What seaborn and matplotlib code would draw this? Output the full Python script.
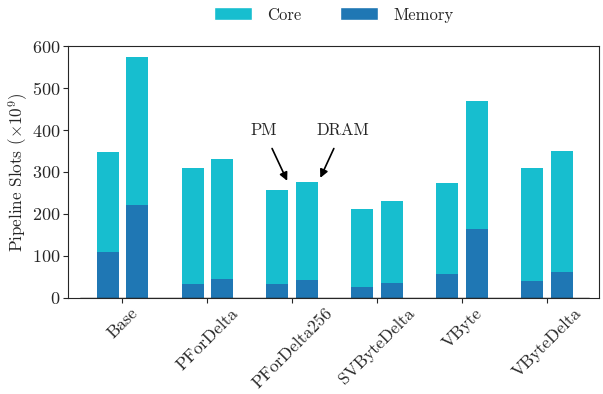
import pandas as pd
import seaborn as sns
import matplotlib.pyplot as plt
from matplotlib.patches import Patch

# Data (pipeline slots, x10^9)
methods = ['Base', 'PForDelta', 'PForDelta256', 'SVByteDelta', 'VByte', 'VByteDelta']
configs = ['PM', 'DRAM']
total_pm = [347, 309, 256, 212, 274, 309]
total_dram = [574, 331, 276, 231, 469, 350]
memory_pm = [109, 33, 33, 26, 57, 40]
memory_dram = [221, 45, 43, 36, 164, 62]

core_color = '#17becf'
mem_color = '#1f77b4'

rows = []
for i, m in enumerate(methods):
    rows.append({'method': m, 'config': 'PM', 'total': total_pm[i], 'memory': memory_pm[i]})
    rows.append({'method': m, 'config': 'DRAM', 'total': total_dram[i], 'memory': memory_dram[i]})
df = pd.DataFrame(rows)

sns.set_theme(style='ticks')
plt.rcParams['font.family'] = 'serif'
plt.rcParams['font.serif'] = ['cmr10']
plt.rcParams['mathtext.fontset'] = 'cm'
plt.rcParams['axes.formatter.use_mathtext'] = True
plt.rcParams['axes.unicode_minus'] = False

fig = plt.figure(figsize=(6.03, 3.94), dpi=100)
ax = fig.add_axes([0.113, 0.244, 0.880, 0.639])

# Core on top of Memory: draw the full stack, then the memory part over it
sns.barplot(data=df, x='method', y='total', hue='config', hue_order=configs,
            palette={'PM': core_color, 'DRAM': core_color}, width=0.7, gap=0.26,
            saturation=1, legend=False, linewidth=0, edgecolor='none', ax=ax)
sns.barplot(data=df, x='method', y='memory', hue='config', hue_order=configs,
            palette={'PM': mem_color, 'DRAM': mem_color}, width=0.7, gap=0.26,
            saturation=1, legend=False, linewidth=0, edgecolor='none', ax=ax)
ax.plot([-0.5, 5.5], [0, 0], color='#222222', lw=1.0, zorder=3)

ax.set_xlim(-0.64, 5.61)
ax.set_ylim(0, 600)
ax.set_yticks(range(0, 601, 100))
ax.set_xlabel('')
ax.set_ylabel(r'Pipeline Slots ($\times 10^9$)', fontsize=12.3)
ax.yaxis.set_label_coords(-0.072, 0.5)
ax.tick_params(axis='both', length=3.5, width=0.8, pad=2)
ax.tick_params(axis='y', labelsize=13)
ax.tick_params(axis='x', labelsize=12.5)
plt.setp(ax.get_xticklabels(), rotation=45, ha='center')
for s in ax.spines.values():
    s.set_linewidth(0.8)

ax.annotate('PM', xy=(1.94, 279), xytext=(1.66, 400), fontsize=12,
            ha='center', va='center',
            arrowprops=dict(arrowstyle='-|>', color='black', lw=1.2, shrinkA=6, shrinkB=0))
ax.annotate('DRAM', xy=(2.33, 286), xytext=(2.59, 400), fontsize=12,
            ha='center', va='center',
            arrowprops=dict(arrowstyle='-|>', color='black', lw=1.2, shrinkA=6, shrinkB=0))

handles = [Patch(facecolor=core_color, label='Core'),
           Patch(facecolor=mem_color, label='Memory')]
fig.legend(handles=handles, loc='center', bbox_to_anchor=(0.553, 0.962), ncol=2,
           frameon=False, fontsize=12, handlelength=2.3, handleheight=0.8,
           columnspacing=2.3, handletextpad=0.9)

fig.savefig('out.png', dpi=100)
